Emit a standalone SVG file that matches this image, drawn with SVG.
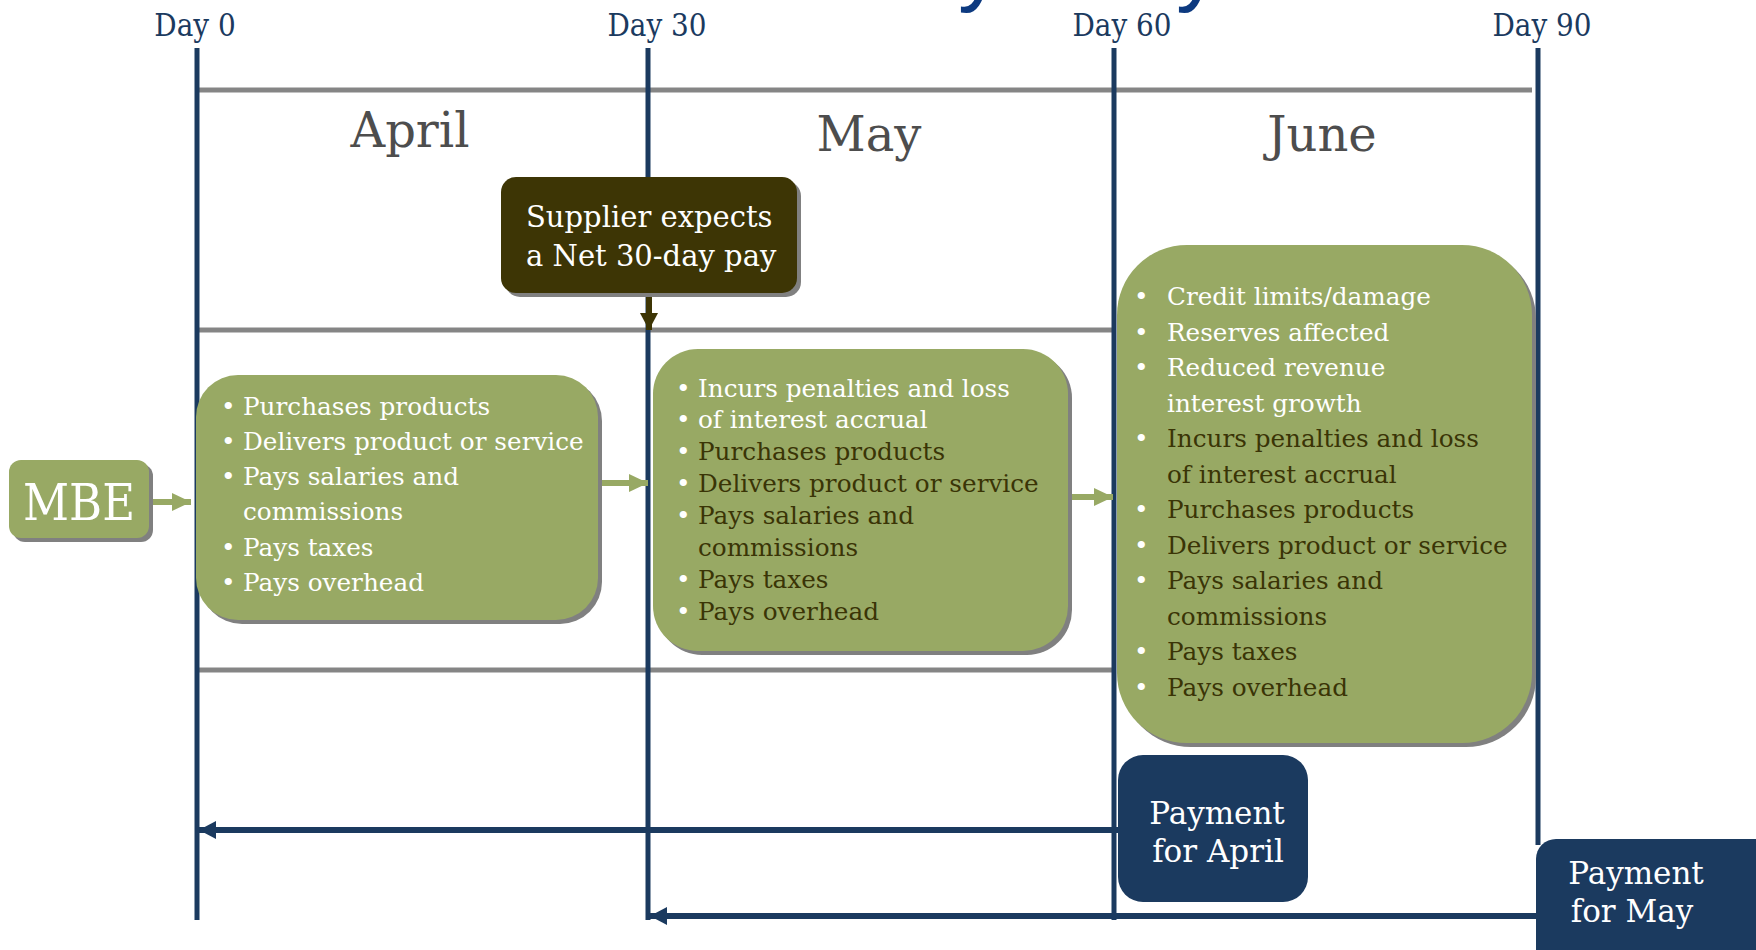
<svg xmlns="http://www.w3.org/2000/svg" width="1756" height="950" viewBox="0 0 1756 950">
<defs>
<style>
.t{font-family:'DejaVu Serif','Liberation Serif',serif;}
.c{font-family:'DejaVu Serif Condensed','DejaVu Serif','Liberation Serif',serif;}
.day{font-size:31px;fill:#1b3a5f;text-anchor:middle;}
.month{font-size:48px;fill:#4d4d4d;text-anchor:middle;}
.li{font-size:24.7px;}
.w{fill:#ffffff;}
.d{fill:#3a3406;}
.vline{stroke:#1b3a5f;stroke-width:5;fill:none;}
.gline{stroke:#858585;stroke-width:5;fill:none;}
.green{fill:#98a964;}
.shadow{fill:#808080;}
.navy{fill:#1b3a5f;}
.garrow{stroke:#98a964;stroke-width:6;fill:none;}
.narrow{stroke:#1b3a5f;stroke-width:6;fill:none;}
.title{font-family:'Liberation Sans',sans-serif;font-size:90px;fill:#0d3a80;}
</style>
<marker id="ga" markerUnits="userSpaceOnUse" markerWidth="20" markerHeight="20" refX="19" refY="9" orient="auto"><path d="M0,0 L19,9 L0,18 Z" fill="#98a964"/></marker>
<marker id="na" markerUnits="userSpaceOnUse" markerWidth="20" markerHeight="20" refX="17" refY="9" orient="auto"><path d="M0,0 L17,9 L0,18 Z" fill="#1b3a5f"/></marker>
<marker id="da" markerUnits="userSpaceOnUse" markerWidth="20" markerHeight="20" refX="17" refY="9" orient="auto"><path d="M0,0 L17,9 L0,18 Z" fill="#3d3505"/></marker>
</defs>
<rect width="1756" height="950" fill="#ffffff"/>

<g id="title-fragment">
<text class="title" x="958" y="-6">y</text>
<text class="title" x="1176" y="-6">y</text>
</g>

<g id="timeline">
<line class="gline" x1="197" y1="90" x2="1532" y2="90"/>
<line class="gline" x1="197" y1="330" x2="1114" y2="330"/>
<line class="gline" x1="197" y1="670" x2="1114" y2="670"/>
<line class="vline" x1="197" y1="48" x2="197" y2="920"/>
<line class="vline" x1="648" y1="48" x2="648" y2="920"/>
<line class="vline" x1="1114" y1="48" x2="1114" y2="920"/>
<line class="vline" x1="1538" y1="48" x2="1538" y2="845"/>
<text class="c day" x="195" y="36">Day 0</text>
<text class="c day" x="657" y="36">Day 30</text>
<text class="c day" x="1122" y="36">Day 60</text>
<text class="c day" x="1542" y="36">Day 90</text>
<text class="t month" x="410" y="147">April</text>
<text class="t month" x="869" y="151">May</text>
<text class="t month" x="1322" y="151">June</text>
</g>

<g id="connectors">
<line class="garrow" x1="151" y1="502" x2="191" y2="502" marker-end="url(#ga)"/>
<line class="garrow" x1="602" y1="483" x2="648" y2="483" marker-end="url(#ga)"/>
<line class="garrow" x1="1072" y1="497" x2="1113" y2="497" marker-end="url(#ga)"/>
<line stroke="#3d3505" stroke-width="6" x1="649" y1="293" x2="649" y2="330" marker-end="url(#da)"/>
<line class="narrow" x1="1118" y1="830" x2="199" y2="830" marker-end="url(#na)"/>
<line class="narrow" x1="1537" y1="916" x2="650" y2="916" marker-end="url(#na)"/>
</g>

<g id="supplier">
<rect class="shadow" x="505" y="181" width="296" height="116" rx="15"/>
<rect x="501" y="177" width="296" height="116" rx="15" fill="#3d3505"/>
<text class="t w" x="526" y="227" font-size="29">Supplier expects</text>
<text class="t w" x="526" y="266" font-size="29">a Net 30-day pay</text>
</g>

<g id="mbe">
<rect class="shadow" x="13" y="464" width="140" height="78" rx="12"/>
<rect class="green" x="9" y="460" width="140" height="78" rx="12"/>
<text class="c w" x="79" y="520" font-size="50" text-anchor="middle">MBE</text>
</g>

<g id="april">
<rect class="shadow" x="200" y="379" width="402" height="245" rx="42"/>
<rect class="green" x="196" y="375" width="402" height="245" rx="42"/>
<g class="t li w">
<text x="221" y="415">•</text><text x="243" y="415">Purchases products</text>
<text x="221" y="450">•</text><text x="243" y="450">Delivers product or service</text>
<text x="221" y="485">•</text><text x="243" y="485">Pays salaries and</text>
<text x="243" y="520">commissions</text>
<text x="221" y="556">•</text><text x="243" y="556">Pays taxes</text>
<text x="221" y="591">•</text><text x="243" y="591">Pays overhead</text>
</g>
</g>

<g id="may">
<rect class="shadow" x="657" y="353" width="415" height="302" rx="45"/>
<rect class="green" x="653" y="349" width="415" height="302" rx="45"/>
<g class="t li">
<text class="w" x="676" y="397">•</text><text class="w" x="698" y="397">Incurs penalties and loss</text>
<text class="w" x="676" y="428">•</text><text class="w" x="698" y="428">of interest accrual</text>
<text class="w" x="676" y="460">•</text><text class="d" x="698" y="460">Purchases products</text>
<text class="w" x="676" y="492">•</text><text class="d" x="698" y="492">Delivers product or service</text>
<text class="w" x="676" y="524">•</text><text class="d" x="698" y="524">Pays salaries and</text>
<text class="d" x="698" y="556">commissions</text>
<text class="w" x="676" y="588">•</text><text class="d" x="698" y="588">Pays taxes</text>
<text class="w" x="676" y="620">•</text><text class="d" x="698" y="620">Pays overhead</text>
</g>
</g>

<g id="june">
<rect class="shadow" x="1121" y="249" width="415" height="498" rx="70"/>
<rect class="green" x="1117" y="245" width="415" height="498" rx="70"/>
<g class="t li">
<text class="w" x="1134" y="305">•</text><text class="w" x="1167" y="305">Credit limits/damage</text>
<text class="w" x="1134" y="340.5">•</text><text class="w" x="1167" y="340.5">Reserves affected</text>
<text class="w" x="1134" y="376">•</text><text class="w" x="1167" y="376">Reduced revenue</text>
<text class="w" x="1167" y="411.5">interest growth</text>
<text class="w" x="1134" y="447">•</text><text class="d" x="1167" y="447">Incurs penalties and loss</text>
<text class="d" x="1167" y="482.5">of interest accrual</text>
<text class="w" x="1134" y="518">•</text><text class="d" x="1167" y="518">Purchases products</text>
<text class="w" x="1134" y="553.5">•</text><text class="d" x="1167" y="553.5">Delivers product or service</text>
<text class="w" x="1134" y="589">•</text><text class="d" x="1167" y="589">Pays salaries and</text>
<text class="d" x="1167" y="624.5">commissions</text>
<text class="w" x="1134" y="660">•</text><text class="d" x="1167" y="660">Pays taxes</text>
<text class="w" x="1134" y="695.5">•</text><text class="d" x="1167" y="695.5">Pays overhead</text>
</g>
</g>

<g id="payment-april">
<rect class="navy" x="1118" y="755" width="190" height="147" rx="25"/>
<text class="t w" x="1217" y="824" font-size="31" text-anchor="middle">Payment</text>
<text class="t w" x="1218" y="862" font-size="31" text-anchor="middle">for April</text>
</g>

<g id="payment-may">
<rect class="navy" x="1536" y="839" width="260" height="150" rx="20"/>
<text class="t w" x="1636" y="884" font-size="31" text-anchor="middle">Payment</text>
<text class="t w" x="1632" y="922" font-size="31" text-anchor="middle">for May</text>
</g>
</svg>
